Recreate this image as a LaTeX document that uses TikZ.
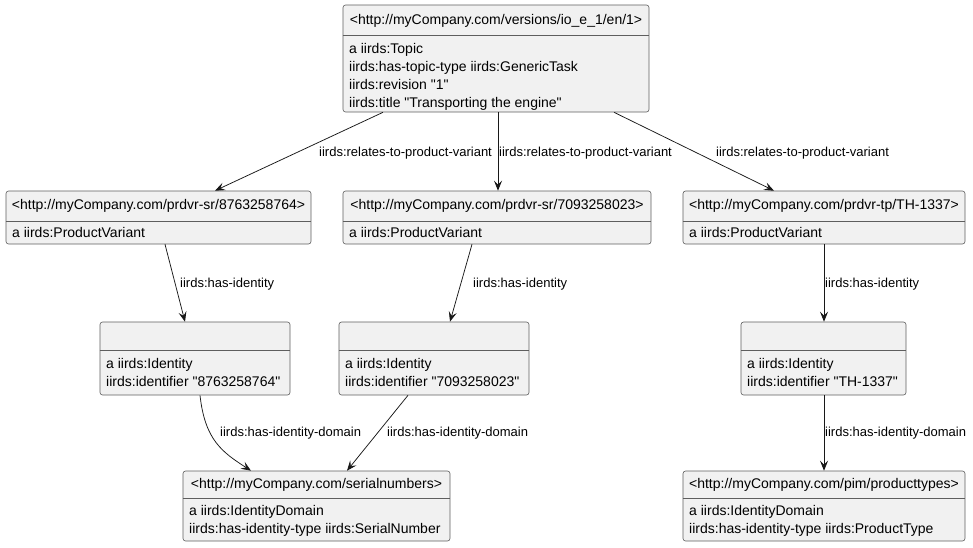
\documentclass[tikz,border=0pt]{standalone}
\usepackage{fontspec}
\setmainfont{Liberation Sans}
\usetikzlibrary{arrows.meta,calc}
\definecolor{boxfill}{HTML}{F1F1F1}
\definecolor{boxline}{HTML}{5E5E5E}
\definecolor{linec}{HTML}{181818}
\newcommand{\qmark}{\textquotedbl}
\tikzset{
  res/.style={draw=boxline,fill=boxfill,rounded corners=2.5pt,line width=0.6pt,inner sep=0pt},
  sep/.style={draw=boxline,line width=0.6pt},
  hdr/.style={font=\fontsize{14}{17}\selectfont,inner sep=0pt},
  props/.style={font=\fontsize{14}{18}\selectfont,align=left,anchor=north west,inner sep=0pt},
  plabel/.style={font=\fontsize{13}{15}\selectfont,anchor=west,inner sep=0pt},
  rel/.style={-{Stealth[length=10pt,width=8pt,inset=4pt]},draw=linec,line width=0.75pt},
}

\begin{document}
\begin{tikzpicture}[x=1pt,y=-1pt]
  \useasboundingbox (0,0) rectangle (973,547);
  % topic
  \node[res,minimum width=306pt,minimum height=107pt] (topic) at (496,58.5) {};
  \draw[sep] (topic.west |- 0,35) -- (topic.east |- 0,35);
  \node[hdr] (topicH) at (496,20.5) {<http://myCompany.com/versions/io\_e\_1/en/1>};
  \node[props] (topicP) at (349,43) {a iirds:Topic\\iirds:has-topic-type iirds:GenericTask\\iirds:revision \qmark1\qmark\\iirds:title \qmark Transporting the engine\qmark};

  % product variants
  \node[res,minimum width=305pt,minimum height=53pt] (pvA) at (158.5,217.5) {};
  \draw[sep] (pvA.west |- 0,221) -- (pvA.east |- 0,221);
  \node[hdr] (pvAH) at (158.5,206) {<http://myCompany.com/prdvr-sr/8763258764>};
  \node[props] (pvAP) at (12,227) {a iirds:ProductVariant};

  \node[res,minimum width=308pt,minimum height=53pt] (pvB) at (497,217.5) {};
  \draw[sep] (pvB.west |- 0,221) -- (pvB.east |- 0,221);
  \node[hdr] (pvBH) at (497,206) {<http://myCompany.com/prdvr-sr/7093258023>};
  \node[props] (pvBP) at (349,227) {a iirds:ProductVariant};

  \node[res,minimum width=282pt,minimum height=53pt] (pvC) at (824,217.5) {};
  \draw[sep] (pvC.west |- 0,221) -- (pvC.east |- 0,221);
  \node[hdr] (pvCH) at (824,206) {<http://myCompany.com/prdvr-tp/TH-1337>};
  \node[props] (pvCP) at (689,227) {a iirds:ProductVariant};

  % identities
  \node[res,minimum width=190pt,minimum height=73pt] (idA) at (195,358.5) {};
  \draw[sep] (idA.west |- 0,350) -- (idA.east |- 0,350);
  \node[props] (idAP) at (106,358) {a iirds:Identity\\iirds:identifier \qmark 8763258764\qmark};

  \node[res,minimum width=190pt,minimum height=73pt] (idB) at (434,358.5) {};
  \draw[sep] (idB.west |- 0,350) -- (idB.east |- 0,350);
  \node[props] (idBP) at (345,358) {a iirds:Identity\\iirds:identifier \qmark 7093258023\qmark};

  \node[res,minimum width=165pt,minimum height=73pt] (idC) at (823.5,358.5) {};
  \draw[sep] (idC.west |- 0,350) -- (idC.east |- 0,350);
  \node[props] (idCP) at (747,358) {a iirds:Identity\\iirds:identifier \qmark TH-1337\qmark};

  % identity domains
  \node[res,minimum width=267pt,minimum height=70pt] (serial) at (316.5,506) {};
  \draw[sep] (serial.west |- 0,498) -- (serial.east |- 0,498);
  \node[hdr] (serialH) at (316.5,484.5) {<http://myCompany.com/serialnumbers>};
  \node[props] (serialP) at (189,505) {a iirds:IdentityDomain\\iirds:has-identity-type iirds:SerialNumber};

  \node[res,minimum width=282pt,minimum height=70pt] (pim) at (824,506) {};
  \draw[sep] (pim.west |- 0,498) -- (pim.east |- 0,498);
  \node[hdr] (pimH) at (824,484.5) {<http://myCompany.com/pim/producttypes>};
  \node[props] (pimP) at (689,505) {a iirds:IdentityDomain\\iirds:has-identity-type iirds:ProductType};

  % relations
  \draw[rel] (topic.south -| 383,0) -- (pvA.north -| 215,0);
  \draw[rel] (topic.south -| 498,0) -- (pvB.north -| 498,0);
  \draw[rel] (topic.south -| 614,0) -- (pvC.north -| 774,0);
  \node[plabel] (rA) at (319,153) {iirds:relates-to-product-variant};
  \node[plabel] (rB) at (499,153) {iirds:relates-to-product-variant};
  \node[plabel] (rC) at (716,153) {iirds:relates-to-product-variant};

  \draw[rel] (pvA.south -| 165,0) -- (idA.north -| 185,0);
  \draw[rel] (pvB.south -| 472,0) -- (idB.north -| 450,0);
  \draw[rel] (pvC.south -| 824,0) -- (idC.north -| 824,0);
  \node[plabel] (hA) at (180,284) {iirds:has-identity};
  \node[plabel] (hB) at (473,284) {iirds:has-identity};
  \node[plabel] (hC) at (825,284) {iirds:has-identity};

  \draw[rel] (idA.south -| 200,0) .. controls (205,440) and (222,452) .. (serial.north -| 251,0);
  \draw[rel] (idB.south -| 408,0) -- (serial.north -| 347,0);
  \draw[rel] (idC.south -| 824,0) -- (pim.north -| 824,0);
  \node[plabel] (dA) at (220,433) {iirds:has-identity-domain};
  \node[plabel] (dB) at (387,433) {iirds:has-identity-domain};
  \node[plabel] (dC) at (825,433) {iirds:has-identity-domain};
\end{tikzpicture}
\end{document}
